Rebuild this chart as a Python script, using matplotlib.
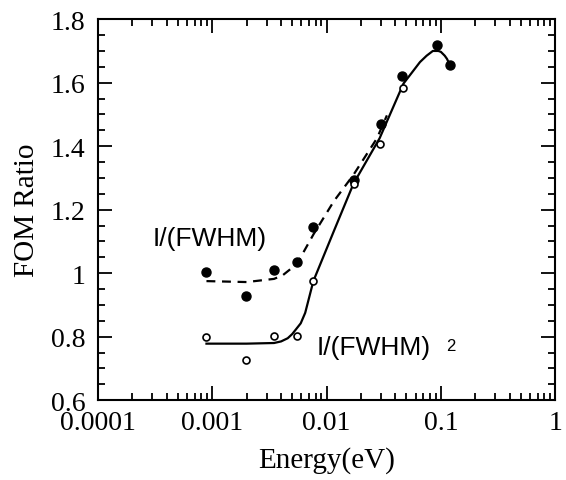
import matplotlib
matplotlib.use("Agg")
import matplotlib.pyplot as plt
from matplotlib.ticker import FixedLocator, FixedFormatter, LogLocator, NullFormatter, MultipleLocator

# Data: I/(FWHM) (filled points)
e_fwhm = [0.00089, 0.00198, 0.00347, 0.0055, 0.00766, 0.0172, 0.0299, 0.0461, 0.0918, 0.1197]
r_fwhm = [1.003, 0.928, 1.009, 1.034, 1.147, 1.292, 1.470, 1.620, 1.719, 1.656]

# Data: I/(FWHM)^2 (open points)
e_fwhm2 = [0.00089, 0.00198, 0.00347, 0.0055, 0.00766, 0.0172, 0.0291, 0.047]
r_fwhm2 = [0.800, 0.727, 0.802, 0.802, 0.975, 1.280, 1.408, 1.583]

# Fitted curve (solid)
e_solid = [0.00089, 0.002, 0.00347, 0.004, 0.00457, 0.005, 0.00594, 0.0065, 0.007, 0.00766,
           0.01159, 0.0172, 0.0291, 0.047, 0.0656, 0.075, 0.085, 0.095, 0.1, 0.108, 0.113, 0.1197]
r_solid = [0.778, 0.778, 0.780, 0.785, 0.795, 0.808, 0.842, 0.875, 0.920, 0.975,
           1.133, 1.282, 1.425, 1.597, 1.665, 1.685, 1.700, 1.700, 1.697, 1.685, 1.675, 1.656]

# Fitted curve (dashed)
e_dash = [0.00089, 0.002, 0.00347, 0.00412, 0.0055, 0.0077, 0.01159, 0.0172, 0.0276, 0.0337]
r_dash = [0.975, 0.972, 0.982, 0.993, 1.029, 1.123, 1.227, 1.310, 1.425, 1.497]

x_ticks = [0.0001, 0.001, 0.01, 0.1, 1]
x_labels = ["0.0001", "0.001", "0.01", "0.1", "1"]
y_ticks = [0.6, 0.8, 1.0, 1.2, 1.4, 1.6, 1.8]
y_labels = ["0.6", "0.8", "1", "1.2", "1.4", "1.6", "1.8"]

serif = ["Liberation Serif", "DejaVu Serif"]
sans = ["Liberation Sans", "DejaVu Sans"]

fig = plt.figure(figsize=(5.66, 4.81), dpi=100)
ax = fig.add_axes([0.173, 0.166, 0.808, 0.792])

ax.plot(e_solid, r_solid, color="black", lw=1.6, zorder=2)
ax.plot(e_dash, r_dash, color="black", lw=1.6, linestyle=(0, (4, 3)), zorder=2)
ax.plot(e_fwhm, r_fwhm, "o", color="black", ms=6.5, zorder=3)
ax.plot(e_fwhm2, r_fwhm2, "o", mfc="white", mec="black", mew=1.2, ms=5, zorder=3)

ax.set_xscale("log")
ax.set_xlim(0.0001, 1)
ax.set_ylim(0.6, 1.8)

ax.xaxis.set_major_locator(FixedLocator(x_ticks))
ax.xaxis.set_major_formatter(FixedFormatter(x_labels))
ax.xaxis.set_minor_locator(LogLocator(base=10, subs=range(2, 10)))
ax.xaxis.set_minor_formatter(NullFormatter())
ax.yaxis.set_major_locator(FixedLocator(y_ticks))
ax.yaxis.set_major_formatter(FixedFormatter(y_labels))
ax.yaxis.set_minor_locator(MultipleLocator(0.05))

ax.tick_params(which="both", direction="in", top=True, right=True, width=1.3, color="black")
ax.tick_params(which="major", length=10)
ax.tick_params(which="minor", length=5)
ax.tick_params(axis="x", which="major", pad=7)
ax.tick_params(axis="y", which="major", pad=9)
for lab in ax.get_xticklabels() + ax.get_yticklabels():
    lab.set_fontfamily(serif)
    lab.set_fontsize(20)
for s in ax.spines.values():
    s.set_linewidth(1.5)

ax.set_xlabel("Energy(eV)", fontfamily=serif, fontsize=21, labelpad=8)
ax.set_ylabel("FOM Ratio", fontfamily=serif, fontsize=21, labelpad=8)

ax.text(0.000303, 1.11, "I/(FWHM)", fontfamily=sans, fontsize=19, ha="left", va="center")
ax.text(0.00826, 0.767, "I/(FWHM)", fontfamily=sans, fontsize=19, ha="left", va="center")
ax.text(0.112, 0.772, "2", fontfamily=sans, fontsize=12, ha="left", va="center")

fig.savefig("out.png", dpi=100)
